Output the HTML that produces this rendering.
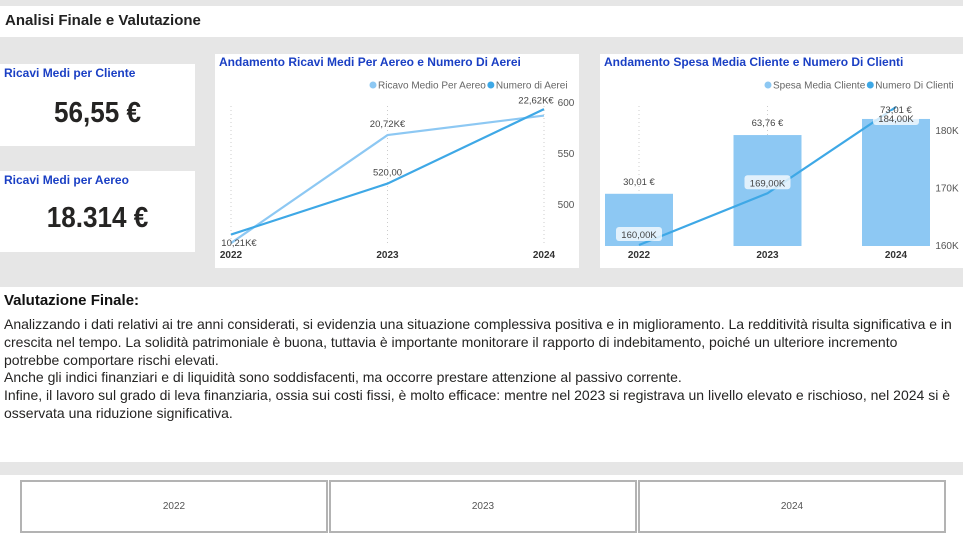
<!DOCTYPE html>
<html><head><meta charset="utf-8">
<style>
body{margin:0;width:963px;height:540px;background:#fff;position:relative;overflow:hidden;font-family:"Liberation Sans",sans-serif}
.abs{position:absolute}
.band{background:#e6e6e6}
.card{background:#fff}
.ktitle{position:absolute;left:4px;top:2px;color:#1a3fc4;font-weight:bold;font-size:12px;font-family:"Liberation Sans Narrow","Liberation Sans",sans-serif}
.kval{position:absolute;left:0;width:195px;text-align:center;font-weight:bold;font-size:29px;color:#252423;transform:scaleX(0.9)}
.btn{position:absolute;top:480px;height:53px;border:2px solid #b3b3b3;box-sizing:border-box;background:#fff;font-size:10px;color:#555;display:flex;align-items:center;justify-content:center}
.txt{position:absolute;left:4px;top:316px;font-size:14px;line-height:17.8px;color:#252423;white-space:nowrap}
</style></head><body>
<div class="abs band" style="left:0;top:0;width:963px;height:6px"></div>
<div class="abs" style="left:0;top:6px;width:963px;height:31px;background:#fff">
<div style="position:absolute;left:5px;top:6px;font-weight:bold;font-size:15px;color:#222">Analisi Finale e Valutazione</div></div>
<div class="abs band" style="left:0;top:37px;width:963px;height:250px"></div>
<div class="abs card" style="left:0;top:64px;width:195px;height:82px">
<div class="ktitle">Ricavi Medi per Cliente</div>
<div class="kval" style="top:33px">56,55 €</div></div>
<div class="abs card" style="left:0;top:171px;width:195px;height:81px">
<div class="ktitle">Ricavi Medi per Aereo</div>
<div class="kval" style="top:31px">18.314 €</div></div>
<svg class="abs" id="c1" style="left:215px;top:54px" width="364" height="214"></svg>
<svg class="abs" id="c2" style="left:600px;top:54px" width="363" height="214"></svg>
<div class="abs" style="left:4px;top:292px;font-weight:bold;font-size:15px;color:#111">Valutazione Finale:</div>
<div class="txt">Analizzando i dati relativi ai tre anni considerati, si evidenzia una situazione complessiva positiva e in miglioramento. La redditività risulta significativa e in<br>crescita nel tempo. La solidità patrimoniale è buona, tuttavia è importante monitorare il rapporto di indebitamento, poiché un ulteriore incremento<br>potrebbe comportare rischi elevati.<br>Anche gli indici finanziari e di liquidità sono soddisfacenti, ma occorre prestare attenzione al passivo corrente.<br>Infine, il lavoro sul grado di leva finanziaria, ossia sui costi fissi, è molto efficace: mentre nel 2023 si registrava un livello elevato e rischioso, nel 2024 si è<br>osservata una riduzione significativa.</div>
<div class="abs band" style="left:0;top:462px;width:963px;height:13px"></div>
<div class="btn" style="left:20px;width:308px">2022</div>
<div class="btn" style="left:329px;width:308px">2023</div>
<div class="btn" style="left:638px;width:308px">2024</div>
<script>
const years=["2022","2023","2024"];
const ricavoAereo=[10.21,20.72,22.62];
const ricavoLabels=["10,21K€","20,72K€","22,62K€"];
const numAerei=[470,520,593];
const aereiTicks=[500,550,600];
const spesaCliente=[30.01,63.76,73.01];
const spesaLabels=["30,01 €","63,76 €","73,01 €"];
const numClienti=[160,169,184];
const clientiLabels=["160,00K","169,00K","184,00K"];
const clientiTicks=[160,170,180];
const NS="http://www.w3.org/2000/svg";
function mk(svg,tag,attrs,txt){const e=document.createElementNS(NS,tag);for(const k in attrs)e.setAttribute(k,attrs[k]);if(txt!==undefined)e.textContent=txt;svg.appendChild(e);return e;}
const F='"Liberation Sans",sans-serif';
function header(svg,title,l1,l2,lx){
 svg.setAttribute('style',svg.getAttribute('style')+';background:#fff');
 let t=mk(svg,'text',{x:4,y:12,'font-size':12,'font-weight':'bold',fill:'#1a3fc4','font-family':'"Liberation Sans Narrow","Liberation Sans",sans-serif'},title);
 
 let c=mk(svg,'circle',{cx:lx,cy:31,r:3.5,fill:'#8dc8f3'});
 
 let a=mk(svg,'text',{x:lx+5,y:34.5,'font-size':10,fill:'#666','font-family':F},l1);
 
 const w=a.getComputedTextLength();
 let c2=mk(svg,'circle',{cx:lx+w+10,cy:31,r:3.5,fill:'#3ea8e6'});
 
 let b=mk(svg,'text',{x:lx+w+15,y:34.5,'font-size':10,fill:'#666','font-family':F},l2);
 
}
// chart 1
(function(){
 const s=document.getElementById('c1');
 header(s,'Andamento Ricavi Medi Per Aereo e Numero Di Aerei','Ricavo Medio Per Aereo','Numero di Aerei',158);
 const xs=i=>16+i*156.5;
 const yL=v=>294-v*10.276;
 const yR=v=>48-(v-600)*1.02;
 years.forEach((y,i)=>{
  let g=mk(s,'line',{x1:xs(i),x2:xs(i),y1:52,y2:190,stroke:'#ccc','stroke-dasharray':'1 3'});
  
  let t=mk(s,'text',{x:xs(i),y:204,'font-size':10,'font-weight':'bold',fill:'#333','text-anchor':'middle','font-family':F},y);
  
 });
 aereiTicks.forEach(v=>{
  let t=mk(s,'text',{x:351,y:yR(v)+4,'font-size':10,fill:'#555','font-family':F,'text-anchor':'middle'},v);
  
 });
 let p1=mk(s,'polyline',{points:ricavoAereo.map((v,i)=>xs(i)+','+yL(v)).join(' '),fill:'none',stroke:'#8dc8f3','stroke-width':2.2});
 
 let p2=mk(s,'polyline',{points:numAerei.map((v,i)=>xs(i)+','+yR(v)).join(' '),fill:'none',stroke:'#3ea8e6','stroke-width':2.2});
 
 ricavoAereo.forEach((v,i)=>{
  const dx=i==0?8:(i==2?-8:0);
  let t=mk(s,'text',{x:xs(i)+dx,y:i==0?yL(v)+3:(i==2?yL(v)-12:yL(v)-8),'font-size':9.5,fill:'#444','text-anchor':'middle','font-family':F},ricavoLabels[i]);
  
 });
 let t=mk(s,'text',{x:xs(1),y:yR(numAerei[1])-8,'font-size':9.5,fill:'#444','text-anchor':'middle','font-family':F},'520,00');
 
})();
// chart 2
(function(){
 const s=document.getElementById('c2');
 header(s,'Andamento Spesa Media Cliente e Numero Di Clienti','Spesa Media Cliente','Numero Di Clienti',168);
 const xs=i=>39+i*128.5;
 const yB=v=>192-v*1.74;
 const yR=v=>191-(v-160)*5.75;
 years.forEach((y,i)=>{
  let g=mk(s,'line',{x1:xs(i),x2:xs(i),y1:52,y2:192,stroke:'#ccc','stroke-dasharray':'1 3'});
  
  let r=mk(s,'rect',{x:xs(i)-34,y:yB(spesaCliente[i]),width:68,height:192-yB(spesaCliente[i]),fill:'#8dc8f3'});
  
  let t=mk(s,'text',{x:xs(i),y:204,'font-size':10,'font-weight':'bold',fill:'#333','text-anchor':'middle','font-family':F},y);
  
 });
 clientiTicks.forEach(v=>{
  let t=mk(s,'text',{x:347,y:yR(v)+4,'font-size':10,fill:'#555','font-family':F,'text-anchor':'middle'},v+'K');
  
 });
 let p=mk(s,'polyline',{points:numClienti.map((v,i)=>xs(i)+','+yR(v)).join(' '),fill:'none',stroke:'#3ea8e6','stroke-width':2.2});
 
 numClienti.forEach((v,i)=>{
  const cy=i==2?yR(v)+11:yR(v)-11;
  let r=mk(s,'rect',{x:xs(i)-23,y:cy-7,width:46,height:14,rx:3,fill:'#ffffff','fill-opacity':0.75});
  
  let t=mk(s,'text',{x:xs(i),y:cy+4,'font-size':9.5,fill:'#444','text-anchor':'middle','font-family':F},clientiLabels[i]);
  
 });
 spesaCliente.forEach((v,i)=>{
  let l=mk(s,'text',{x:xs(i),y:yB(v)-(i==2?6:9),'font-size':9.5,fill:'#444','text-anchor':'middle','font-family':F},spesaLabels[i]);
  
 });
})();
</script>
</body></html>
